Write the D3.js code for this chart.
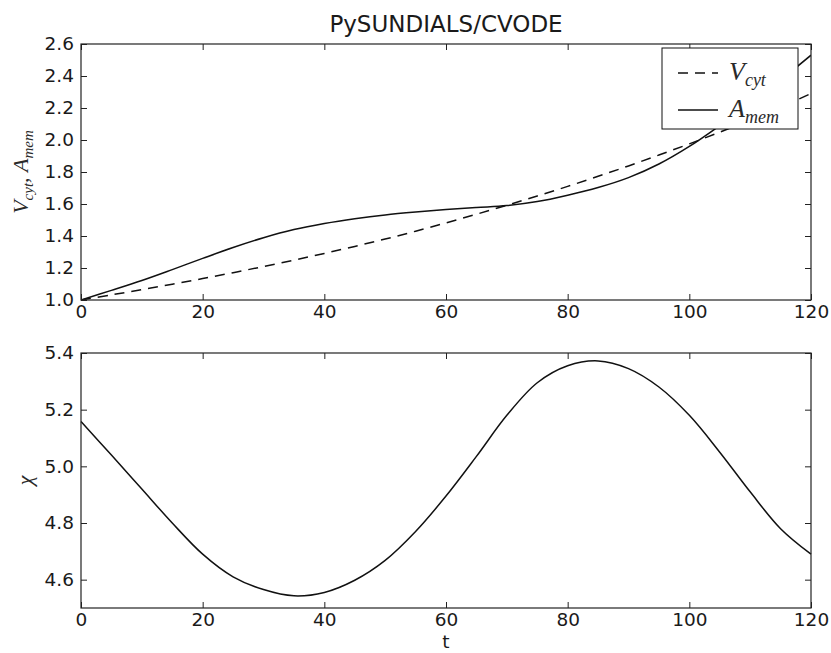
<!DOCTYPE html>
<html>
<head>
<meta charset="utf-8">
<script src="https://cdn.jsdelivr.net/npm/d3@7"></script>
<style>
  body { margin: 0; background: #fff; }
  svg text { font-family: "DejaVu Sans", sans-serif; fill: #1a1a1a; }
  .math { font-family: "Liberation Serif", "DejaVu Serif", serif; font-style: italic; fill: #2a2a2a; }
</style>
</head>
<body>
<div id="chart"></div>
<script>
// Time points (shared by both panels)
const tValues = [0, 5, 10, 15, 20, 25, 30, 35, 40, 45, 50, 55, 60,
  65, 70, 75, 80, 85, 90, 95, 100, 105, 110, 115, 120];

// Top panel series
const vCyt = [1.0, 1.032, 1.065, 1.099, 1.134, 1.171, 1.209, 1.249, 1.291, 1.335, 1.381, 1.43, 1.482,
  1.536, 1.592, 1.65, 1.71, 1.773, 1.838, 1.906, 1.976, 2.049, 2.126, 2.206, 2.29];
const aMem = [1.0, 1.06, 1.122, 1.19, 1.26, 1.328, 1.389, 1.44, 1.478, 1.508, 1.532, 1.55, 1.565,
  1.578, 1.59, 1.615, 1.655, 1.703, 1.765, 1.85, 1.96, 2.09, 2.23, 2.375, 2.53];

// Bottom panel series
const chi = [5.158, 5.04, 4.92, 4.80, 4.69, 4.61, 4.565, 4.543, 4.555, 4.598, 4.668, 4.77, 4.895,
  5.035, 5.18, 5.295, 5.355, 5.372, 5.345, 5.28, 5.18, 5.05, 4.91, 4.78, 4.69];

// Tick values
const xTicks = [0, 20, 40, 60, 80, 100, 120];
const yTicksTop = [1.0, 1.2, 1.4, 1.6, 1.8, 2.0, 2.2, 2.4, 2.6];
const yTicksBottom = [4.6, 4.8, 5.0, 5.2, 5.4];

const width = 831, height = 653;
const left = 81, right = 811;
const topPanel = { y0: 44, y1: 300, domain: [1.0, 2.6] };
const botPanel = { y0: 353, y1: 608, domain: [4.5, 5.4] };

const svg = d3.select('#chart')
  .append('svg')
  .attr('width', width)
  .attr('height', height);

const x = d3.scaleLinear().domain([0, 120]).range([left, right]);

// draws frame, inward ticks on all four sides, and labels on left/bottom
function drawAxes(panel, y, yTicks) {
  const tick = 6;

  svg.append('g')
    .attr('transform', 'translate(0,' + panel.y1 + ')')
    .call(d3.axisBottom(x).tickValues(xTicks).tickSizeInner(-tick).tickSizeOuter(0)
      .tickPadding(5).tickFormat(d3.format('d')))
    .call(g => g.select('.domain').remove());

  svg.append('g')
    .attr('transform', 'translate(0,' + panel.y0 + ')')
    .call(d3.axisTop(x).tickValues(xTicks).tickSizeInner(-tick).tickSizeOuter(0).tickFormat(''))
    .call(g => g.select('.domain').remove());

  svg.append('g')
    .attr('transform', 'translate(' + left + ',0)')
    .call(d3.axisLeft(y).tickValues(yTicks).tickSizeInner(-tick).tickSizeOuter(0)
      .tickPadding(7).tickFormat(d3.format('.1f')))
    .call(g => g.select('.domain').remove());

  svg.append('g')
    .attr('transform', 'translate(' + right + ',0)')
    .call(d3.axisRight(y).tickValues(yTicks).tickSizeInner(-tick).tickSizeOuter(0).tickFormat(''))
    .call(g => g.select('.domain').remove());

  svg.selectAll('.tick line').attr('stroke', '#222');
  svg.selectAll('.tick text')
    .style('font-size', '18.5px')
    .style('font-family', '"DejaVu Sans", sans-serif')
    .attr('fill', '#1a1a1a');

  svg.append('rect')
    .attr('x', left)
    .attr('y', panel.y0)
    .attr('width', right - left)
    .attr('height', panel.y1 - panel.y0)
    .attr('fill', 'none')
    .attr('stroke', '#222')
    .attr('stroke-width', 1.2);
}

// Top panel
const yTop = d3.scaleLinear().domain(topPanel.domain).range([topPanel.y1, topPanel.y0]);

svg.append('clipPath').attr('id', 'clipTop')
  .append('rect')
  .attr('x', left).attr('y', topPanel.y0)
  .attr('width', right - left).attr('height', topPanel.y1 - topPanel.y0);

const lineTop = series => d3.line()
  .x((d, i) => x(tValues[i]))
  .y(d => yTop(d))
  .curve(d3.curveCatmullRom.alpha(0.5))(series);

svg.append('path')
  .attr('d', lineTop(vCyt))
  .attr('fill', 'none')
  .attr('stroke', '#111')
  .attr('stroke-width', 1.5)
  .attr('stroke-dasharray', '10,7')
  .attr('clip-path', 'url(#clipTop)');

svg.append('path')
  .attr('d', lineTop(aMem))
  .attr('fill', 'none')
  .attr('stroke', '#111')
  .attr('stroke-width', 1.5)
  .attr('clip-path', 'url(#clipTop)');

drawAxes(topPanel, yTop, yTicksTop);

// Bottom panel
const yBot = d3.scaleLinear().domain(botPanel.domain).range([botPanel.y1, botPanel.y0]);

svg.append('path')
  .datum(chi)
  .attr('d', d3.line()
    .x((d, i) => x(tValues[i]))
    .y(d => yBot(d))
    .curve(d3.curveCatmullRom.alpha(0.5)))
  .attr('fill', 'none')
  .attr('stroke', '#111')
  .attr('stroke-width', 1.5);

drawAxes(botPanel, yBot, yTicksBottom);

// Title
svg.append('text')
  .attr('x', (left + right) / 2)
  .attr('y', 32)
  .attr('text-anchor', 'middle')
  .style('font-size', '23px')
  .text('PySUNDIALS/CVODE');

// x label
svg.append('text')
  .attr('x', (left + right) / 2)
  .attr('y', 648)
  .attr('text-anchor', 'middle')
  .style('font-size', '18.5px')
  .text('t');

// y label top (mathtext style)
const yLabTop = svg.append('text')
  .attr('class', 'math')
  .attr('transform', 'translate(28,' + (topPanel.y0 + topPanel.y1) / 2 + ') rotate(-90)')
  .attr('text-anchor', 'middle')
  .style('font-size', '22px');
yLabTop.append('tspan').text('V');
yLabTop.append('tspan').attr('dy', 5).style('font-size', '15px').text('cyt');
yLabTop.append('tspan').attr('dy', -5).style('font-style', 'normal').text(', ');
yLabTop.append('tspan').text('A');
yLabTop.append('tspan').attr('dy', 5).style('font-size', '15px').text('mem');

// y label bottom
svg.append('text')
  .attr('class', 'math')
  .attr('transform', 'translate(32,' + (botPanel.y0 + botPanel.y1) / 2 + ') rotate(-90)')
  .attr('text-anchor', 'middle')
  .style('font-size', '22px')
  .text('χ');

// Legend
const legend = svg.append('g').attr('transform', 'translate(662,48)');
legend.append('rect')
  .attr('width', 136)
  .attr('height', 81)
  .attr('fill', '#fff')
  .attr('stroke', '#111')
  .attr('stroke-width', 1);

const legendItems = [
  { main: 'V', sub: 'cyt', dash: '10,7' },
  { main: 'A', sub: 'mem', dash: null },
];

legendItems.forEach((d, i) => {
  const cy = 25 + i * 37;
  legend.append('line')
    .attr('x1', 16).attr('x2', 56)
    .attr('y1', cy).attr('y2', cy)
    .attr('stroke', '#111')
    .attr('stroke-width', 1.5)
    .attr('stroke-dasharray', d.dash);
  const t = legend.append('text')
    .attr('class', 'math')
    .attr('x', 67)
    .attr('y', cy + 7)
    .style('font-size', '26px');
  t.append('tspan').text(d.main);
  t.append('tspan').attr('dy', 6).style('font-size', '18px').text(d.sub);
});
</script>
</body>
</html>
